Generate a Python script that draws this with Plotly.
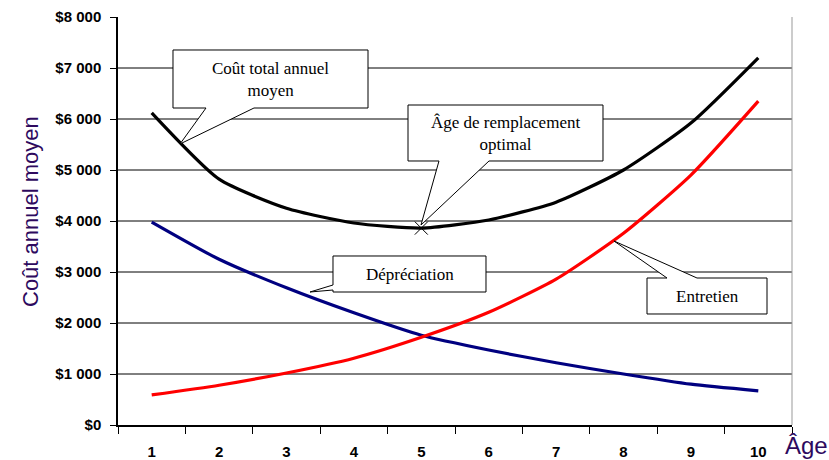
import plotly.graph_objects as go

ages = ["1", "2", "3", "4", "5", "6", "7", "8", "9", "10"]
cout_total = [6120, 4820, 4250, 3960, 3860, 4020, 4370, 5000, 5920, 7200]
depreciation = [3980, 3250, 2690, 2200, 1760, 1470, 1220, 1000, 800, 670]
entretien = [590, 780, 1020, 1310, 1720, 2210, 2860, 3760, 4900, 6350]
y_ticks = [0, 1000, 2000, 3000, 4000, 5000, 6000, 7000, 8000]
y_tick_labels = ["$0", "$1 000", "$2 000", "$3 000", "$4 000", "$5 000", "$6 000", "$7 000", "$8 000"]
grid_values = [1000, 2000, 3000, 4000, 5000, 6000, 7000]
optimal_index = 4

W, H = 829, 460
L, R, T, B = 118, 792, 17, 425


def P(px, py):
    return (px - L) / (R - L), (B - py) / (B - T)


def path(points):
    s = ""
    for i, (px, py) in enumerate(points):
        x, y = P(px, py)
        s += ("M" if i == 0 else "L") + f"{x:.5f},{y:.5f} "
    return s + "Z"


fig = go.Figure()
fig.add_trace(go.Scatter(x=ages, y=depreciation, mode="lines", line=dict(color="#000080", width=3.2, shape="spline", smoothing=0.6), name="Dépréciation"))
fig.add_trace(go.Scatter(x=ages, y=entretien, mode="lines", line=dict(color="#ff0000", width=3.2, shape="spline", smoothing=0.6), name="Entretien"))
fig.add_trace(go.Scatter(x=ages, y=cout_total, mode="lines", line=dict(color="#000000", width=3.2, shape="spline", smoothing=0.6), name="Coût total annuel moyen"))
fig.add_trace(go.Scatter(x=[ages[optimal_index]], y=[cout_total[optimal_index]], mode="markers",
                         marker=dict(symbol="x-thin", size=13, line=dict(color="black", width=1)), name="Optimal"))

shapes = []
for g in grid_values:
    shapes.append(dict(type="line", xref="paper", yref="y", x0=0, x1=1, y0=g, y1=g,
                       line=dict(color="black", width=1), layer="below"))
shapes.append(dict(type="line", xref="paper", yref="paper", x0=1, x1=1, y0=0, y1=1,
                   line=dict(color="#999999", width=1), layer="below"))

callouts = [
    ([(173, 50), (368, 50), (368, 108), (254, 108), (180, 144), (206, 108), (173, 108)],
     "Coût total annuel<br>moyen", (270.5, 79)),
    ([(408, 105), (603, 105), (603, 161), (489, 161), (421, 225), (439, 161), (408, 161)],
     "Âge de remplacement<br>optimal", (505.5, 133)),
    ([(333, 256), (486, 256), (486, 292), (333, 292), (333, 290), (310, 292), (333, 285)],
     "Dépréciation", (409.5, 274)),
    ([(647, 278), (667, 278), (614, 241), (697, 278), (767, 278), (767, 314), (647, 314)],
     "Entretien", (707, 296)),
]
annotations = []
for pts, txt, (cx, cy) in callouts:
    shapes.append(dict(type="path", xref="paper", yref="paper", path=path(pts),
                       fillcolor="white", line=dict(color="black", width=1), layer="above"))
    x, y = P(cx, cy)
    annotations.append(dict(xref="paper", yref="paper", x=x, y=y, text=txt, showarrow=False,
                            font=dict(family="Liberation Serif", size=17, color="black"),
                            xanchor="center", yanchor="middle"))

x, y = P(30, 211)
annotations.append(dict(xref="paper", yref="paper", x=x, y=y, text="Coût annuel moyen", textangle=-90,
                        showarrow=False, font=dict(family="Liberation Sans", size=22, color="#2e0a5e"),
                        xanchor="center", yanchor="middle"))
x, y = P(806, 445)
annotations.append(dict(xref="paper", yref="paper", x=x, y=y, text="Âge", showarrow=False,
                        font=dict(family="Liberation Sans", size=24, color="#2e0a5e"),
                        xanchor="center", yanchor="middle"))

fig.update_layout(
    width=W, height=H,
    margin=dict(l=L, r=W - R, t=T, b=H - B),
    paper_bgcolor="white", plot_bgcolor="white",
    showlegend=False,
    shapes=shapes, annotations=annotations,
    xaxis=dict(type="category", tickson="boundaries", ticks="outside", ticklen=7, tickcolor="black",
               showgrid=False, showline=True, linecolor="black", linewidth=1.5, automargin=False,
               tickfont=dict(family="Liberation Sans", size=15, color="black", weight="bold"),
               ticklabelstandoff=12, range=[-0.5, 9.5]),
    yaxis=dict(range=[0, 8000], tickvals=y_ticks, ticktext=y_tick_labels, ticks="outside", ticklen=6,
               tickcolor="black", showgrid=False, zeroline=False, showline=True, linecolor="black", linewidth=1.5,
               ticklabelstandoff=6, automargin=False,
               tickfont=dict(family="Liberation Sans", size=15, color="black", weight="bold")),
)

fig.write_html("out.html", config={"displayModeBar": False},
               post_script="document.body.style.margin='0';document.body.style.overflow='hidden';")
